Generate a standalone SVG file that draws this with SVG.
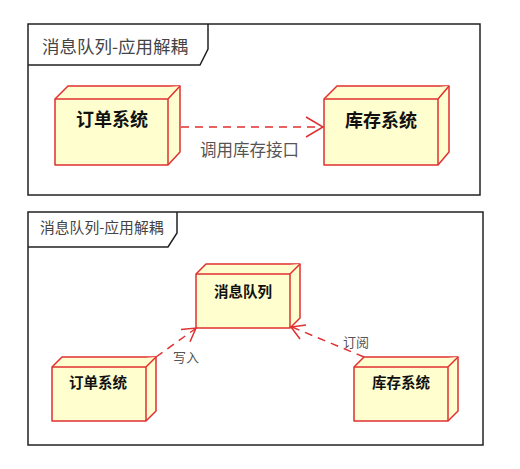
<svg xmlns="http://www.w3.org/2000/svg" width="520" height="469" viewBox="0 0 520 469">
<style>
.frame{fill:none;stroke:#222;stroke-width:1.5}
.title{font-family:"Noto Sans CJK SC","Noto Sans",sans-serif;fill:#444}
.node{fill:#FEFECE;stroke:#E03030;stroke-width:1.5;stroke-linejoin:round}
.ntext{font-family:"Noto Sans CJK SC","Noto Sans",sans-serif;font-weight:bold;fill:#111;text-anchor:middle}
.edge{fill:none;stroke:#E03030;stroke-width:1.5;stroke-dasharray:8,6}
.head{fill:none;stroke:#E03030;stroke-width:1.5}
.elabel{font-family:"Noto Sans CJK SC","Noto Sans",sans-serif;fill:#555}
</style>
<rect width="520" height="469" fill="#fff"/>
<g id="frame1">
<rect class="frame" x="28" y="24" width="452" height="171"/>
<path class="frame" d="M28,65 H200 L208,49 V24"/>
<text class="title" x="42" y="53" font-size="17.5">消息队列-应用解耦</text>
</g>
<g id="frame2">
<rect class="frame" x="28" y="212" width="455" height="233"/>
<path class="frame" d="M28,247 H168 L177,233 V212"/>
<text class="title" x="40" y="233" font-size="14.8">消息队列-应用解耦</text>
</g>
<g id="node-order1">
<path class="node" d="M55,99 L68,86 H180 V152 L168,165 H55 Z"/>
<path class="node" d="M55,99 H168 L180,86 M168,99 V165"/>
<text class="ntext" x="112" y="126" font-size="18">订单系统</text>
</g>
<g id="node-stock1">
<path class="node" d="M324,99 L337,86 H449 V152 L438,165 H324 Z"/>
<path class="node" d="M324,99 H438 L449,86 M438,99 V165"/>
<text class="ntext" x="381" y="127" font-size="18">库存系统</text>
</g>
<g id="node-mq">
<path class="node" d="M196,274 L206,264 H300 V318 L290,328 H196 Z"/>
<path class="node" d="M196,274 H290 L300,264 M290,274 V328"/>
<text class="ntext" x="243" y="297" font-size="14.5">消息队列</text>
</g>
<g id="node-order2">
<path class="node" d="M52,367 L62,357 H156 V411 L146,421 H52 Z"/>
<path class="node" d="M52,367 H146 L156,357 M146,367 V421"/>
<text class="ntext" x="98" y="388" font-size="14.5">订单系统</text>
</g>
<g id="node-stock2">
<path class="node" d="M354,367 L364,357 H458 V411 L448,421 H354 Z"/>
<path class="node" d="M354,367 H448 L458,357 M448,367 V421"/>
<text class="ntext" x="401" y="388" font-size="14.5">库存系统</text>
</g>
<g id="connectors">
<path class="edge" d="M181,127 H322"/>
<path class="head" d="M306,117 L323,127 L306,137"/>
<text class="elabel" x="200" y="156" font-size="16.5">调用库存接口</text>
<path class="edge" d="M156,357 L195,329"/>
<path class="head" d="M181,329.5 L196,328 L190,341.7"/>
<text class="elabel" x="173" y="362" font-size="13">写入</text>
<path class="edge" d="M364,357 L292,327"/>
<path class="head" d="M306,325 L291,327 L300,339"/>
<text class="elabel" x="343" y="347" font-size="13">订阅</text>
</g>
</svg>
